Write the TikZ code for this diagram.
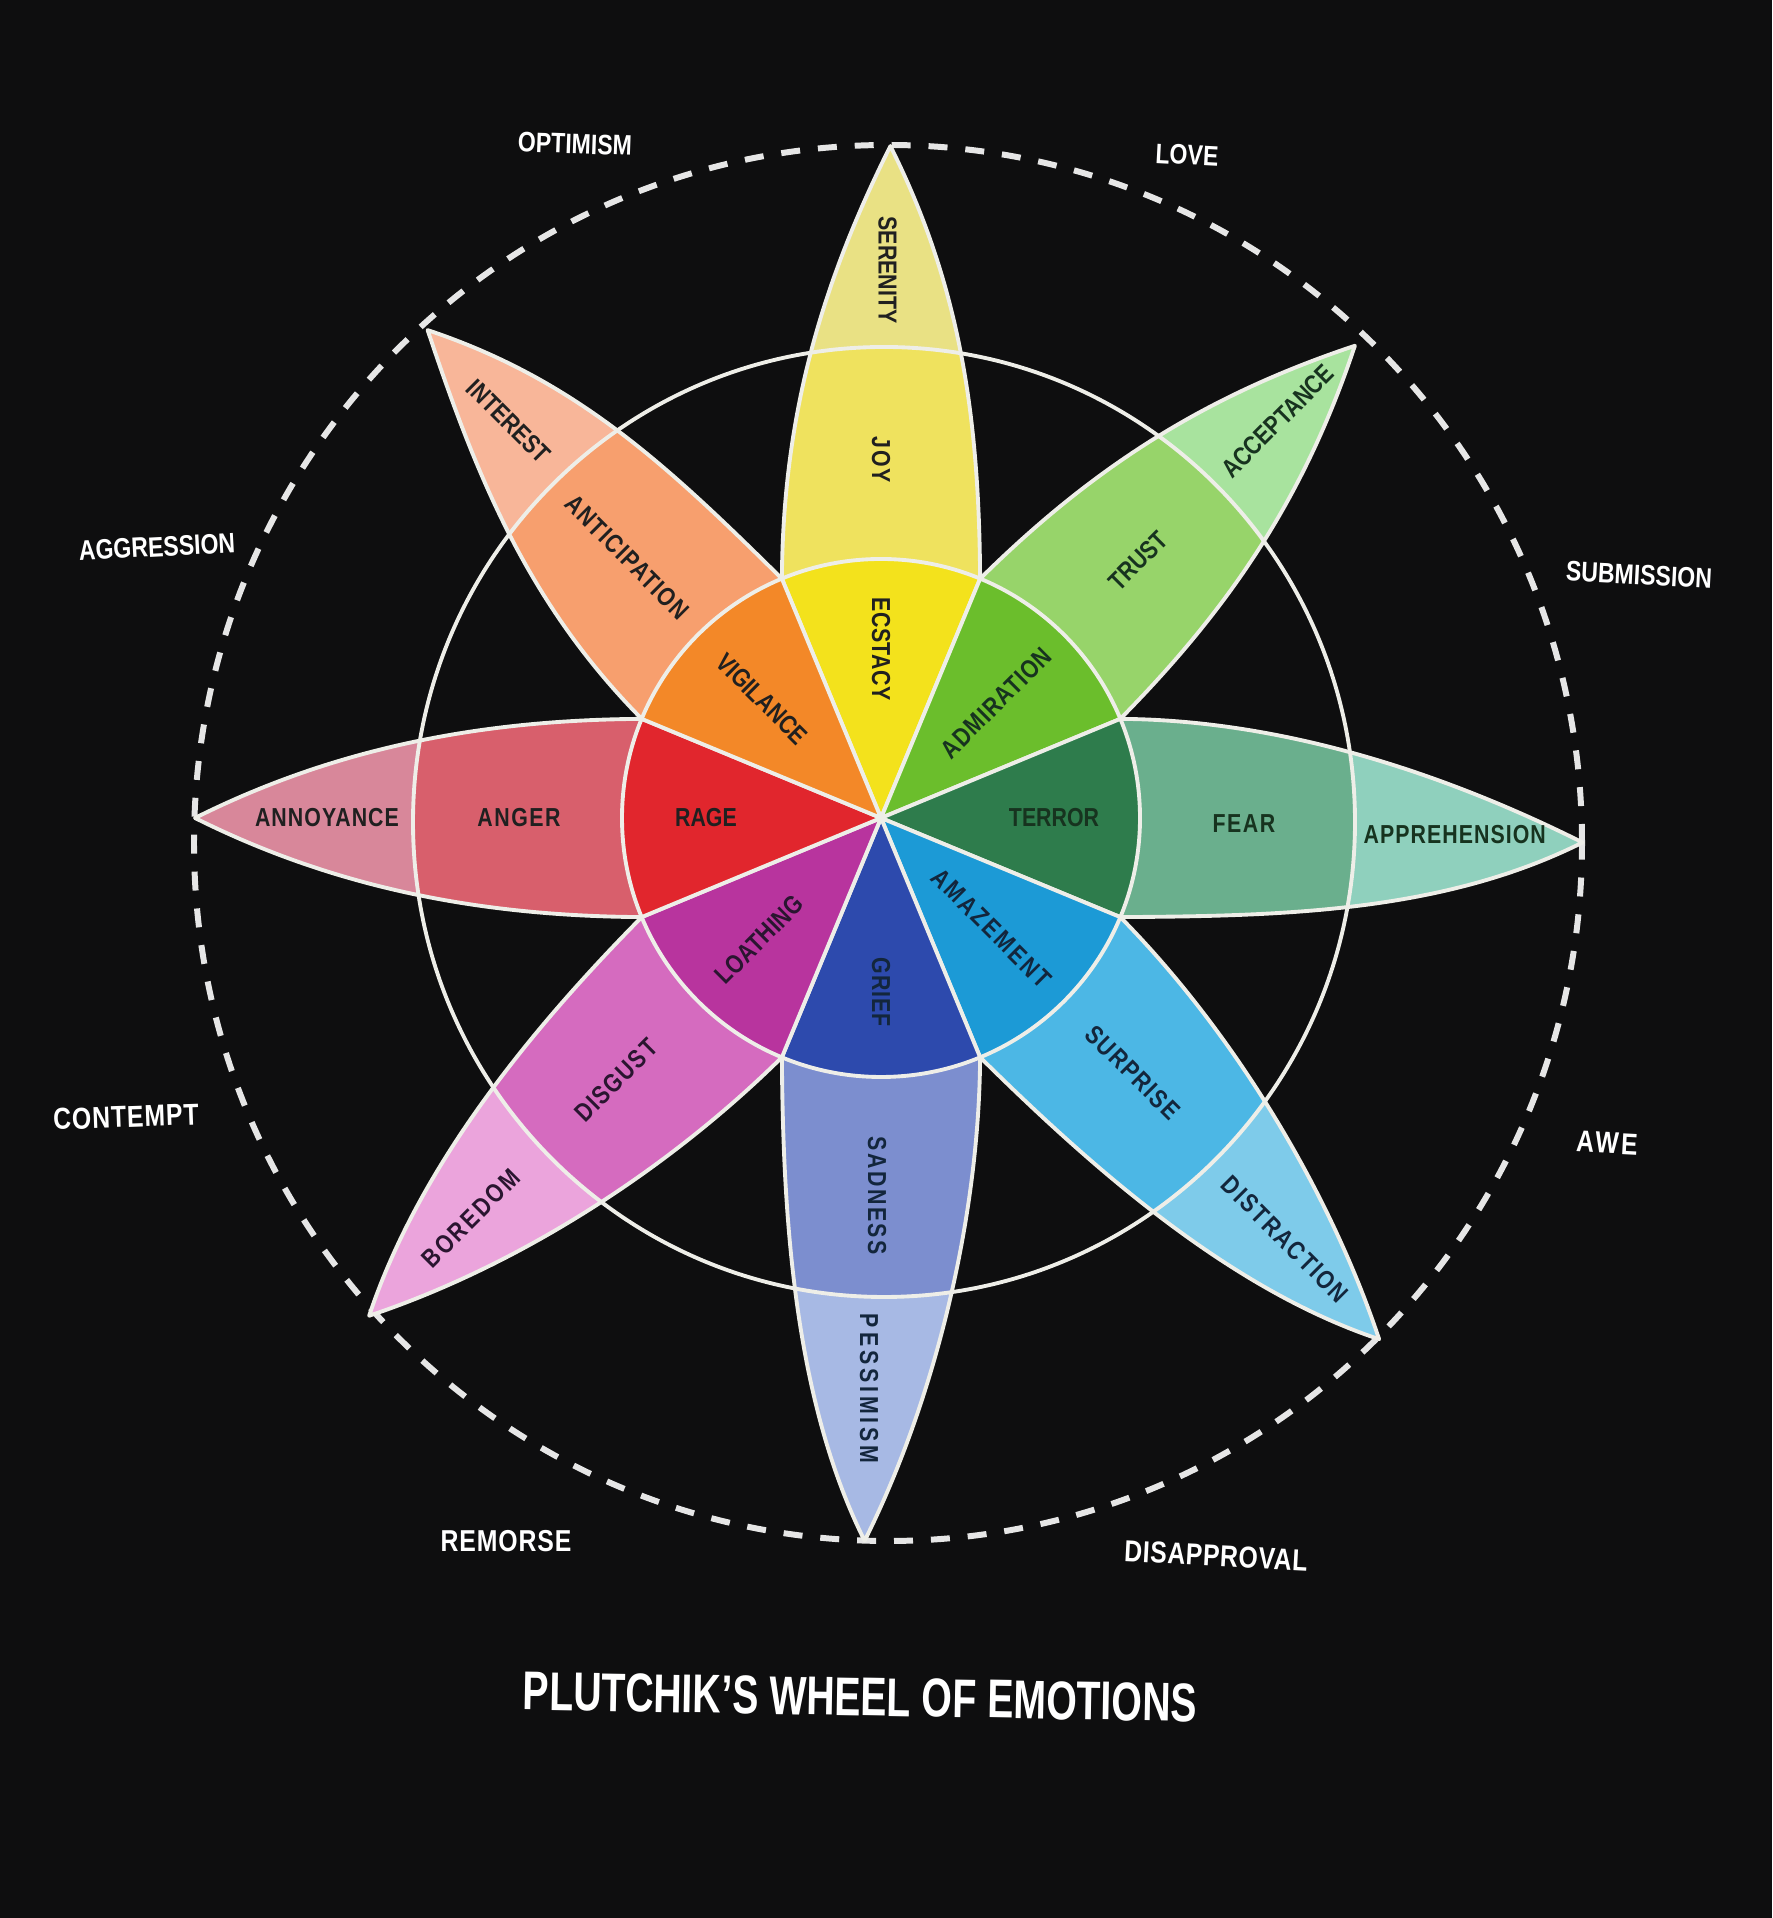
\documentclass[tikz,border=0pt]{standalone}
\usepackage{fontspec}
\setmainfont{Liberation Sans}
\newfontfamily\labfont[FakeStretch=0.82]{Liberation Sans}
\newfontfamily\ttlfont[FakeStretch=0.72]{Liberation Sans}
\definecolor{bg}{HTML}{0E0E0F}
\definecolor{linec}{HTML}{EEEEE8}
\definecolor{dashc}{HTML}{E6E6E6}
\definecolor{labc}{HTML}{202020}
\definecolor{labg}{HTML}{17331F}
\definecolor{labb}{HTML}{13263C}
\definecolor{labp}{HTML}{2A1530}
\definecolor{ecstasy}{HTML}{F3E21C}
\definecolor{joy}{HTML}{EFE25E}
\definecolor{serenity}{HTML}{E9E184}
\definecolor{admiration}{HTML}{6BBE2C}
\definecolor{trust}{HTML}{97D46A}
\definecolor{acceptance}{HTML}{A8E39E}
\definecolor{terror}{HTML}{2E7C4C}
\definecolor{fear}{HTML}{6AAF8D}
\definecolor{apprehension}{HTML}{8FD0BD}
\definecolor{amazement}{HTML}{1C9AD6}
\definecolor{surprise}{HTML}{4CB7E5}
\definecolor{distraction}{HTML}{7ECBEA}
\definecolor{grief}{HTML}{2D4AAD}
\definecolor{sadness}{HTML}{7C8ECF}
\definecolor{pessimism}{HTML}{A7B9E4}
\definecolor{loathing}{HTML}{B8349E}
\definecolor{disgust}{HTML}{D56BBF}
\definecolor{boredom}{HTML}{EBA4DC}
\definecolor{rage}{HTML}{E1262D}
\definecolor{anger}{HTML}{D85F6C}
\definecolor{annoyance}{HTML}{D8879A}
\definecolor{vigilance}{HTML}{F38828}
\definecolor{anticipation}{HTML}{F79F6E}
\definecolor{interest}{HTML}{F8B699}

% #1 axis angle, #2 tip angle in local frame, #3 tip radius, #4 inner, #5 middle, #6 outer colour
\newcommand\petal[6]{%
  \begin{scope}[shift={(C)},rotate={#1-90}]
    \fill[#6] (0,0) -- (67.5:259) .. controls +(-1,161) and +(70,-140) .. (#2:#3)
      .. controls +(-70,-140) and +(1,161) .. (112.5:259) -- cycle;
  \end{scope}
  \begin{scope}
    \clip (884,1096) ellipse [x radius=471, y radius=475];
    \begin{scope}[shift={(C)},rotate={#1-90}]
      \fill[#5] (0,0) -- (67.5:259) .. controls +(-1,161) and +(70,-140) .. (#2:#3)
        .. controls +(-70,-140) and +(1,161) .. (112.5:259) -- cycle;
    \end{scope}
  \end{scope}
  \begin{scope}[shift={(C)},rotate={#1-90}]
    \fill[#4] (0,0) -- (67.5:259) arc[start angle=67.5,end angle=112.5,radius=259] -- cycle;
    \draw[outline] (0,0) -- (67.5:259) .. controls +(-1,161) and +(70,-140) .. (#2:#3)
      .. controls +(-70,-140) and +(1,161) .. (112.5:259) -- cycle;
  \end{scope}}

\begin{document}
\begin{tikzpicture}[x=0.01cm,y=0.01cm,
  outline/.style={draw=linec, line width=1.1pt, line join=round},
  plab/.style={font=\labfont\bfseries\fontsize{7.4}{8}\selectfont\addfontfeatures{LetterSpace=#1}, text=labc, inner sep=0pt},
  plab/.default=0,
  olab/.style={font=\labfont\bfseries\fontsize{8}{9}\selectfont, text=white, inner sep=0pt},
  olabl/.style={font=\labfont\bfseries\fontsize{8.6}{9}\selectfont\addfontfeatures{LetterSpace=#1}, text=white, inner sep=0pt},
  olabl/.default=2,
  ttl/.style={font=\ttlfont\bfseries\fontsize{15.5}{17}\selectfont, text=white, inner sep=0pt}]
\fill[bg] (0,0) rectangle (1772,1918);
\useasboundingbox (0,0) rectangle (1772,1918);
\coordinate (C) at (881,1100);

% outer dashed ring
\draw[dashc, line width=1.7pt, dash pattern=on 5.4pt off 5.1pt] (888,1075) ellipse [x radius=694, y radius=698];

% petals
\petal{90}{89.2}{672}{ecstasy}{joy}{serenity}
\petal{45}{89.9}{669}{admiration}{trust}{acceptance}
\petal{0}{88}{702}{terror}{fear}{apprehension}
\petal{-45}{88.7}{721}{amazement}{surprise}{distraction}
\petal{-90}{88.7}{723}{grief}{sadness}{pessimism}
\petal{225}{89.2}{714}{loathing}{disgust}{boredom}
\petal{180}{90}{686}{rage}{anger}{annoyance}
\petal{135}{87.9}{666}{vigilance}{anticipation}{interest}

\draw[outline] (884,1096) ellipse [x radius=471, y radius=475];
\draw[outline] (C) circle [radius=259];

% petal labels
\node[plab=1.5, rotate=-90] (l-ecstasy) at ([shift={(90:169)}]C) {ECSTACY};
\node[plab=7, rotate=-90] (l-joy) at ([shift={(90:358)}]C) {JOY};
\node[plab, rotate=-90] (l-serenity) at ([shift={(89.3:548)}]C) {SERENITY};
\node[plab=4, rotate=45, text=labg] (l-admiration) at ([shift={(45:163)}]C) {ADMIRATION};
\node[plab, rotate=45, text=labg] (l-trust) at ([shift={(45:364)}]C) {TRUST};
\node[plab, rotate=45, text=labg] (l-acceptance) at ([shift={(45:561)}]C) {ACCEPTANCE};
\node[plab, text=labg] (l-terror) at ([shift={(0:173)}]C) {TERROR};
\node[plab=6, text=labg] (l-fear) at ([shift={(-0.8:363)}]C) {FEAR};
\node[plab=4, text=labg] (l-apprehension) at ([shift={(-1.7:574)}]C) {APPREHENSION};
\node[plab=10, rotate=-45, text=labb] (l-amazement) at ([shift={(-45:156)}]C) {AMAZEMENT};
\node[plab=6.5, rotate=-45, text=labb] (l-surprise) at ([shift={(-45.3:358)}]C) {SURPRISE};
\node[plab=8, rotate=-45, text=labb] (l-distraction) at ([shift={(-46.2:584)}]C) {DISTRACTION};
\node[plab=3.5, rotate=-90, text=labb] (l-grief) at ([shift={(-90:174)}]C) {GRIEF};
\node[plab=9.5, rotate=-90, text=labb] (l-sadness) at ([shift={(-90.6:378)}]C) {SADNESS};
\node[plab=15, rotate=-90, text=labb] (l-pessimism) at ([shift={(-91.2:571)}]C) {PESSIMISM};
\node[plab=1.5, rotate=45, text=labp] (l-loathing) at ([shift={(225:172)}]C) {LOATHING};
\node[plab=6.5, rotate=45, text=labp] (l-disgust) at ([shift={(224.7:373)}]C) {DISGUST};
\node[plab=9.5, rotate=45, text=labp] (l-boredom) at ([shift={(224.3:573)}]C) {BOREDOM};
\node[plab] (l-rage) at ([shift={(180:175)}]C) {RAGE};
\node[plab=6] (l-anger) at ([shift={(180:362)}]C) {ANGER};
\node[plab=4] (l-annoyance) at ([shift={(180:554)}]C) {ANNOYANCE};
\node[plab, rotate=-45] (l-vigilance) at ([shift={(135:168)}]C) {VIGILANCE};
\node[plab=5, rotate=-45] (l-anticipation) at ([shift={(134.2:364)}]C) {ANTICIPATION};
\node[plab, rotate=-45] (l-interest) at ([shift={(133.2:544)}]C) {INTEREST};

% dyads
\node[olab, rotate=-2] (d-optimism) at (575,1774) {OPTIMISM};
\node[olab, rotate=-3] (d-love) at (1187,1763) {LOVE};
\node[olab, rotate=3] (d-aggression) at (157,1371) {AGGRESSION};
\node[olab, rotate=-3] (d-submission) at (1639,1343) {SUBMISSION};
\node[olabl=3, rotate=2] (d-contempt) at (126,801) {CONTEMPT};
\node[olabl=8, rotate=-3] (d-awe) at (1607,775) {AWE};
\node[olabl=3] (d-remorse) at (506,377) {REMORSE};
\node[olabl=2, rotate=-3] (d-disapproval) at (1216,362) {DISAPPROVAL};

\node[ttl, rotate=-1] (title) at (860,221) {PLUTCHIK’S WHEEL OF EMOTIONS};
\end{tikzpicture}
\end{document}
